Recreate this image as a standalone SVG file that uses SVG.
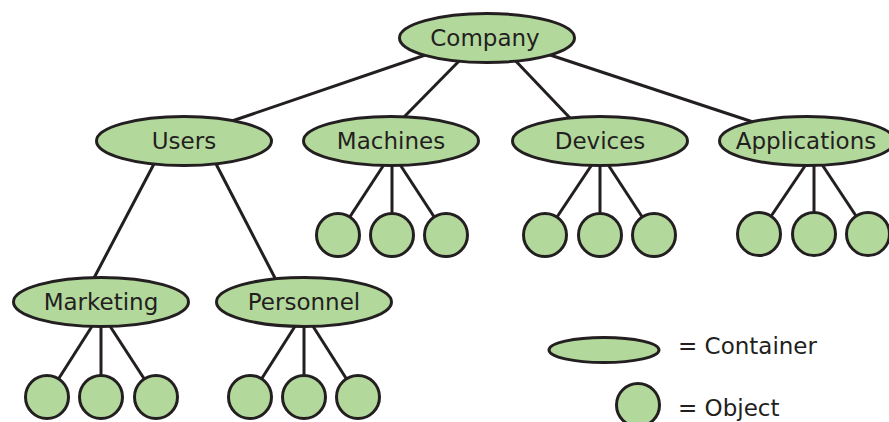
<svg xmlns="http://www.w3.org/2000/svg" width="889" height="422" viewBox="0 0 889 422">
<style>
.n{fill:#b3d89c;stroke:#231f20;stroke-width:3}
.c line{stroke:#231f20;stroke-width:3}
text{font-family:"DejaVu Sans",Verdana,sans-serif;font-size:23px;fill:#231f20}
.t{text-anchor:middle}
</style>
<rect width="889" height="422" fill="#fff"/>
<g class="c" id="connectors">
<line x1="440" y1="50" x2="232" y2="121"/>
<line x1="465" y1="55" x2="403" y2="118"/>
<line x1="510" y1="55" x2="570" y2="118"/>
<line x1="535" y1="50" x2="753" y2="122"/>
<line x1="155" y1="162" x2="94" y2="278"/>
<line x1="215" y1="162" x2="275" y2="278"/>
<line x1="387" y1="160" x2="338" y2="235"/>
<line x1="392" y1="160" x2="392" y2="235"/>
<line x1="397" y1="160" x2="446" y2="235"/>
<line x1="595" y1="160" x2="545" y2="235"/>
<line x1="600" y1="160" x2="600" y2="235"/>
<line x1="605" y1="160" x2="654" y2="235"/>
<line x1="809" y1="160" x2="759" y2="234"/>
<line x1="814" y1="160" x2="814" y2="234"/>
<line x1="819" y1="160" x2="868" y2="234"/>
<line x1="96" y1="320" x2="47" y2="397"/>
<line x1="101" y1="320" x2="101" y2="397"/>
<line x1="106" y1="320" x2="156" y2="397"/>
<line x1="299" y1="320" x2="250" y2="397"/>
<line x1="304" y1="320" x2="304" y2="397"/>
<line x1="309" y1="320" x2="358" y2="397"/>
</g>
<g id="company"><ellipse class="n" cx="487" cy="38" rx="87.5" ry="24.5"/><text class="t" x="485" y="46">Company</text></g>
<g id="users"><ellipse class="n" cx="184" cy="141" rx="87.5" ry="24.5"/><text class="t" x="184" y="149">Users</text></g>
<g id="machines"><ellipse class="n" cx="391" cy="141" rx="87.5" ry="24.5"/><text class="t" x="391" y="149">Machines</text></g>
<g id="devices"><ellipse class="n" cx="600" cy="141" rx="87.5" ry="24.5"/><text class="t" x="600" y="149">Devices</text></g>
<g id="applications"><ellipse class="n" cx="807" cy="141" rx="87.5" ry="24.5"/><text class="t" x="806" y="149">Applications</text></g>
<g id="marketing"><ellipse class="n" cx="101" cy="302" rx="87.5" ry="24.5"/><text class="t" x="101" y="310">Marketing</text></g>
<g id="personnel"><ellipse class="n" cx="304" cy="302" rx="87.5" ry="24.5"/><text class="t" x="304" y="310">Personnel</text></g>
<g id="machines-objects"><circle class="n" cx="338" cy="235" r="21.5"/><circle class="n" cx="392" cy="235" r="21.5"/><circle class="n" cx="446" cy="235" r="21.5"/></g>
<g id="devices-objects"><circle class="n" cx="545" cy="235" r="21.5"/><circle class="n" cx="600" cy="235" r="21.5"/><circle class="n" cx="654" cy="235" r="21.5"/></g>
<g id="applications-objects"><circle class="n" cx="759" cy="234" r="21.5"/><circle class="n" cx="814" cy="234" r="21.5"/><circle class="n" cx="868" cy="234" r="21.5"/></g>
<g id="marketing-objects"><circle class="n" cx="47" cy="397" r="21.5"/><circle class="n" cx="101" cy="397" r="21.5"/><circle class="n" cx="156" cy="397" r="21.5"/></g>
<g id="personnel-objects"><circle class="n" cx="250" cy="397" r="21.5"/><circle class="n" cx="304" cy="397" r="21.5"/><circle class="n" cx="358" cy="397" r="21.5"/></g>
<g id="legend-container"><ellipse class="n" cx="604" cy="350" rx="55" ry="12.5"/><text x="678" y="354">= Container</text></g>
<g id="legend-object"><circle class="n" cx="638" cy="405" r="21.5"/><text x="678" y="416">= Object</text></g>
</svg>
